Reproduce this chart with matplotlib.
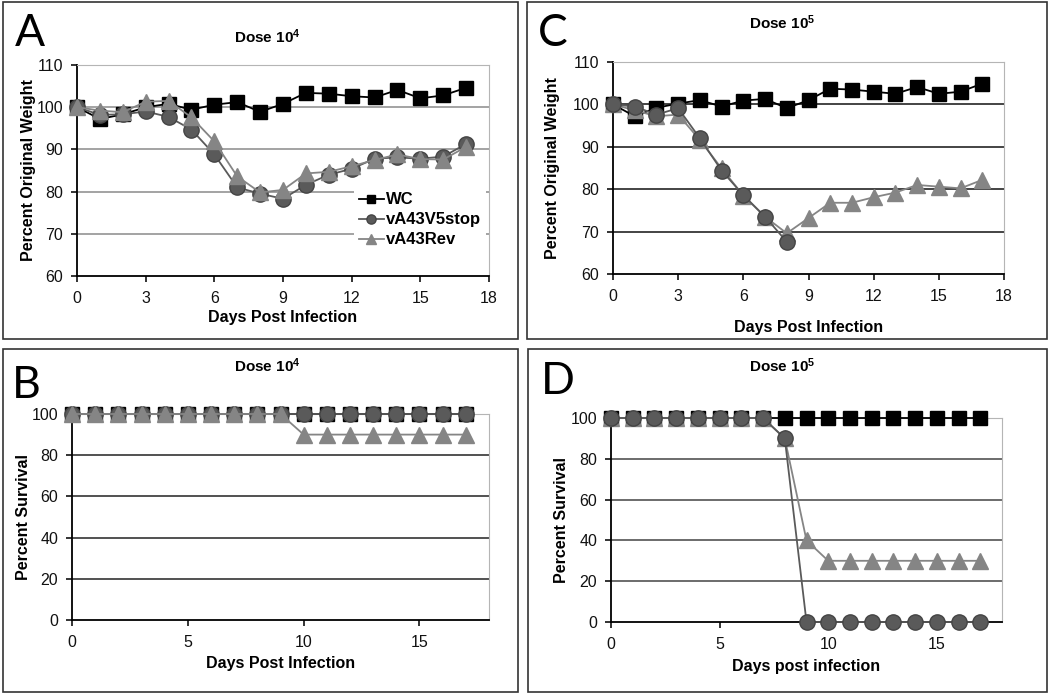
import matplotlib
matplotlib.use("Agg")
import matplotlib.pyplot as plt
from matplotlib.patches import Rectangle

plt.rcParams['font.family'] = ['Liberation Sans', 'DejaVu Sans']
plt.rcParams['mathtext.default'] = 'regular'

W, H = 1050, 694

# data
days = list(range(0, 18))
names = ['WC', 'vA43V5stop', 'vA43Rev']

# A: weight, dose 10^4
wt4_wc = [100, 97.2, 98.3, 100, 100.8, 99.4, 100.6, 101.2, 98.9, 100.8,
          103.4, 103.2, 102.6, 102.3, 104.1, 102.1, 102.8, 104.6]
wt4_stop = [100, 98.2, 98.3, 99.0, 97.7, 94.7, 88.8, 81.0, 79.5, 78.3,
            81.6, 84.0, 85.4, 87.8, 88.1, 87.8, 88.3, 91.3]
wt4_rev = [100, 99.2, 98.8, 101.3, 101.5, 97.6, 91.9, 83.6, 79.8, 80.4,
           84.3, 84.7, 86.0, 87.5, 88.8, 87.7, 87.6, 90.6]

# C: weight, dose 10^5
wt5_wc = [100, 97.2, 99.2, 100.2, 101.0, 99.5, 100.9, 101.3, 99.1, 101.0,
          103.7, 103.5, 103.0, 102.5, 104.1, 102.5, 103.0, 104.9]
days_stop5 = list(range(0, 9))
wt5_stop = [100, 99.5, 97.6, 99.1, 92.0, 84.4, 78.6, 73.5, 67.6]
wt5_rev = [100, 98.6, 97.2, 97.6, 91.6, 84.9, 78.5, 73.5, 69.6, 73.2,
           76.8, 76.8, 78.1, 79.2, 81.0, 80.6, 80.2, 82.2]

# B: survival, dose 10^4
sv4_wc = [100] * 18
sv4_stop = [100] * 18
sv4_rev = [100] * 10 + [90] * 8

# D: survival, dose 10^5
sv5_wc = [100] * 18
sv5_stop = [100] * 8 + [90] + [0] * 9
sv5_rev = [100] * 8 + [90, 40] + [30] * 8

c_wc = '#000000'
c_stop = '#5a5a5a'
c_rev = '#858585'


def px_axes(fig, left, top, right, bottom):
    return fig.add_axes([left / W, 1 - bottom / H, (right - left) / W, (bottom - top) / H])


def frame(fig, left, top, right, bottom):
    fig.add_artist(Rectangle((left / W, 1 - bottom / H), (right - left) / W, (bottom - top) / H,
                             transform=fig.transFigure, fill=False, edgecolor='#333333', lw=1.2))


def style(ax, ylim, yticks, xticks, gridc):
    ax.set_xlim(0, 18)
    ax.set_ylim(*ylim)
    ax.set_yticks(yticks)
    ax.set_xticks(xticks)
    for y in yticks[1:]:
        ax.axhline(y, color=gridc, lw=1.1, zorder=1)
    ax.spines['top'].set_color('#b5b5b5')
    ax.spines['right'].set_color('#b5b5b5')
    ax.spines['left'].set_linewidth(1.3)
    ax.spines['bottom'].set_linewidth(1.3)
    ax.tick_params(direction='out', length=4, width=1.2, labelsize=11.5, colors='#111111')
    ax.tick_params(axis='y', pad=6)
    ax.tick_params(axis='x', pad=7)


def draw(ax, xw, yw, xs, ys, xr, yr, stop_top=False):
    zs, zr = (6, 5) if stop_top else (5, 6)
    ax.plot(xw, yw, color=c_wc, lw=1.3, marker='s', ms=10.5, mec=c_wc, zorder=4, label=names[0], clip_on=False)
    ax.plot(xs, ys, color=c_stop, lw=1.3, marker='o', ms=11, mfc=c_stop, mec='#444444', zorder=zs,
            label=names[1], clip_on=False)
    ax.plot(xr, yr, color=c_rev, lw=1.3, marker='^', ms=11.5, mfc=c_rev, mec=c_rev, zorder=zr,
            label=names[2], clip_on=False)


fig = plt.figure(figsize=(W / 100, H / 100), dpi=100)

frame(fig, 3, 2, 518, 339)
frame(fig, 527, 2, 1047, 339)
frame(fig, 3, 349, 518, 692)
frame(fig, 528, 349, 1047, 692)

lab = dict(fontsize=11.5, fontweight='bold')

# A
axA = px_axes(fig, 77, 65, 489, 276)
style(axA, (60, 110), [60, 70, 80, 90, 100, 110], list(range(0, 19, 3)), '#8a8a8a')
draw(axA, days, wt4_wc, days, wt4_stop, days, wt4_rev)
axA.set_xlabel('Days Post Infection', labelpad=3, **lab)
axA.set_ylabel('Percent Original Weight', labelpad=0, **lab)
leg = axA.legend(loc='upper left', bbox_to_anchor=(0.672, 0.42), frameon=True, fancybox=False,
                 framealpha=1, edgecolor='none', fontsize=12, handlelength=1.5, handletextpad=0.1,
                 labelspacing=0.3, markerscale=0.6, borderaxespad=0, borderpad=0.3)
for t in leg.get_texts():
    t.set_fontweight('bold')
leg.set_zorder(10)

# C
axC = px_axes(fig, 613, 62, 1004, 274)
style(axC, (60, 110), [60, 70, 80, 90, 100, 110], list(range(0, 19, 3)), '#111111')
draw(axC, days, wt5_wc, days_stop5, wt5_stop, days, wt5_rev, stop_top=True)
axC.set_xlabel('Days Post Infection', labelpad=11, **lab)
axC.set_ylabel('Percent Original Weight', labelpad=9, **lab)

# B
axB = px_axes(fig, 72, 414, 489, 620)
style(axB, (0, 100), [0, 20, 40, 60, 80, 100], [0, 5, 10, 15], '#222222')
draw(axB, days, sv4_wc, days, sv4_stop, days, sv4_rev)
axB.set_xlabel('Days Post Infection', labelpad=4, **lab)
axB.set_ylabel('Percent Survival', labelpad=0, **lab)

# D
axD = px_axes(fig, 611, 418, 1002, 622)
style(axD, (0, 100), [0, 20, 40, 60, 80, 100], [0, 5, 10, 15], '#444444')
draw(axD, days, sv5_wc, days, sv5_stop, days, sv5_rev, stop_top=True)
axD.set_xlabel('Days post infection', labelpad=5, **lab)
axD.set_ylabel('Percent Survival', labelpad=1, **lab)

# titles
tk = dict(fontsize=11, fontweight='bold', ha='center', va='center')
fig.text(267 / W, 1 - 37 / H, r'Dose 10$^{4}$', **tk)
fig.text(782 / W, 1 - 23 / H, r'Dose 10$^{5}$', **tk)
fig.text(267 / W, 1 - 366 / H, r'Dose 10$^{4}$', **tk)
fig.text(782 / W, 1 - 366 / H, r'Dose 10$^{5}$', **tk)

# panel letters
pk = dict(fontsize=32, family=['Lato', 'DejaVu Sans'], ha='left', va='center')
fig.text(15 / W, 1 - 33 / H, 'A', **pk)
fig.text(538 / W, 1 - 33 / H, 'C', **pk)
fig.text(12 / W, 1 - 386 / H, 'B', **pk)
fig.text(541 / W, 1 - 382 / H, 'D', **pk)

fig.savefig('out.png', dpi=100)
